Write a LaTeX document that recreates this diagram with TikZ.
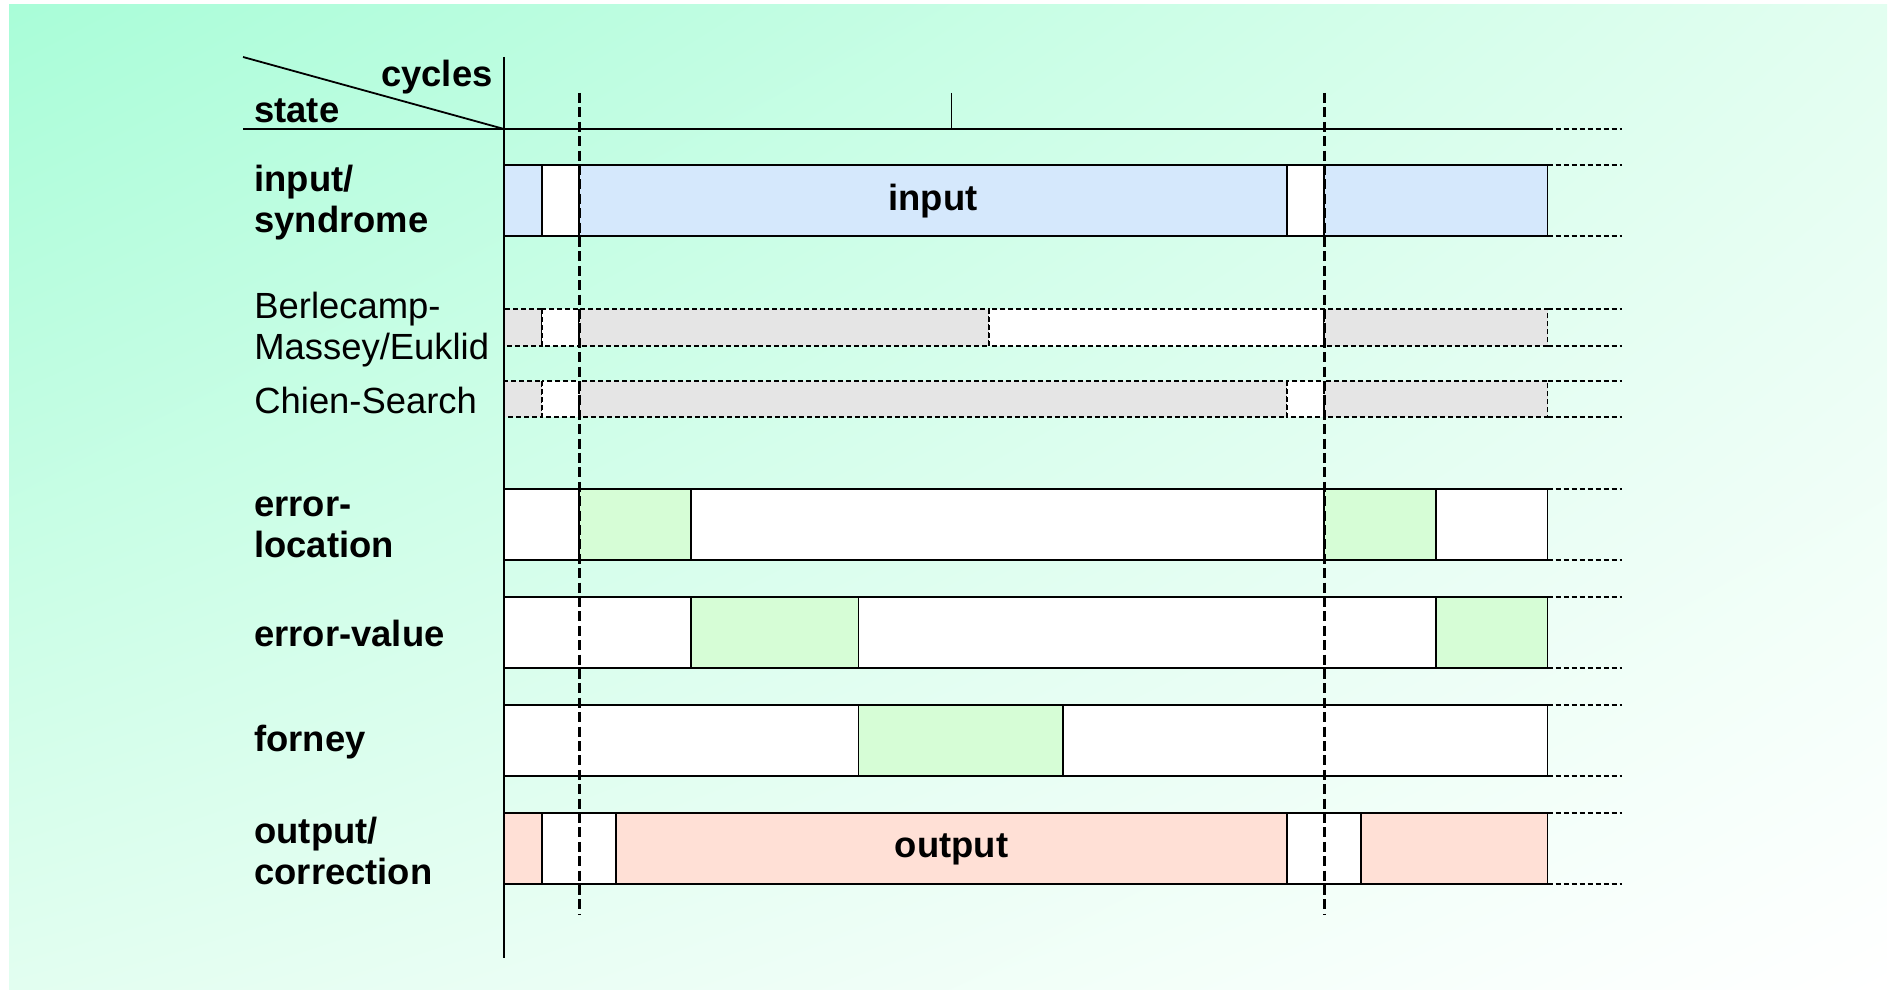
\documentclass[tikz,border=0pt]{standalone}
\usepackage{fontspec}
\setmainfont{Liberation Sans}
\usetikzlibrary{shadings}

\definecolor{bgmint}{HTML}{A9FDD8}
\definecolor{bgpale}{HTML}{E2FEF0}
\definecolor{inblue}{HTML}{D5E8FC}
\definecolor{stgray}{HTML}{E5E5E5}
\definecolor{errgreen}{HTML}{D6FDD6}
\definecolor{outpink}{HTML}{FFE0D6}

\tikzset{slot/.style = {draw=black, line width=0.9pt, fill=white}}
\tikzset{inslot/.style = {slot, fill=inblue}}
\tikzset{errslot/.style = {slot, fill=errgreen}}
\tikzset{outslot/.style = {slot, fill=outpink}}
\tikzset{dslot/.style = {slot, dash pattern=on 2.5pt off 1.5pt}}
\tikzset{gslot/.style = {dslot, fill=stgray}}
\tikzset{more/.style = {line width=0.9pt, dash pattern=on 2.5pt off 1.5pt}}
\tikzset{cut/.style = {line width=1.5pt, dash pattern=on 5pt off 2.2pt}}
\tikzset{lbl/.style = {anchor=west, align=left, inner sep=0pt, font=\bfseries\fontsize{18.2}{20.5}\selectfont}}
\tikzset{nlbl/.style = {lbl, font=\fontsize{18.2}{20.5}\selectfont}}

\begin{document}
\begin{tikzpicture}[x=0.5pt, y=-0.5pt]
\useasboundingbox (0,0) rectangle (1896,994);
\shade[upper left=bgmint, upper right=bgpale, lower left=bgpale, lower right=white] (9,5) rectangle (1887,989);

% header
\draw[line width=0.9pt] (243,57) -- (504,129);
\draw[line width=0.9pt] (243,129) -- (1547.5,129);
\draw[line width=0.9pt] (951.5,93) -- (951.5,129);
\node[lbl, anchor=base east] (cycles) at (493,87) {cycles};
\node[lbl, anchor=base west] (state) at (254,122.5) {state};

% input/syndrome
\draw[inslot] (504,165) rectangle (541.75,236);
\draw[slot] (541.75,165) rectangle (579,236);
\draw[inslot] (579,165) rectangle (1286.75,236);
\draw[slot] (1286.75,165) rectangle (1324,236);
\draw[inslot] (1324,165) rectangle (1547.5,236);
\node[lbl, anchor=center] (input) at (932.9,201.5) {input};

% Berlecamp-Massey/Euklid
\draw[gslot] (504,309) rectangle (541.75,346);
\draw[dslot] (541.75,309) rectangle (579,346);
\draw[gslot] (579,309) rectangle (988.75,346);
\draw[dslot] (988.75,309) rectangle (1324,346);
\draw[gslot] (1324,309) rectangle (1547.5,346);

% Chien-Search
\draw[gslot] (504,381) rectangle (541.75,417);
\draw[dslot] (541.75,381) rectangle (579,417);
\draw[gslot] (579,381) rectangle (1286.75,417);
\draw[dslot] (1286.75,381) rectangle (1324,417);
\draw[gslot] (1324,381) rectangle (1547.5,417);

% error-location
\draw[slot] (504,489) rectangle (579,560);
\draw[errslot] (579,489) rectangle (690.75,560);
\draw[slot] (690.75,489) rectangle (1324,560);
\draw[errslot] (1324,489) rectangle (1435.75,560);
\draw[slot] (1435.75,489) rectangle (1547.5,560);

% error-value
\draw[slot] (504,597) rectangle (690.75,668);
\draw[errslot] (690.75,597) rectangle (858.4,668);
\draw[slot] (858.4,597) rectangle (1435.75,668);
\draw[errslot] (1435.75,597) rectangle (1547.5,668);

% forney
\draw[slot] (504,705) rectangle (858.4,776);
\draw[errslot] (858.4,705) rectangle (1063.25,776);
\draw[slot] (1063.25,705) rectangle (1547.5,776);

% output/correction
\draw[outslot] (504,813) rectangle (541.75,884);
\draw[slot] (541.75,813) rectangle (616.25,884);
\draw[outslot] (616.25,813) rectangle (1286.75,884);
\draw[slot] (1286.75,813) rectangle (1361.25,884);
\draw[outslot] (1361.25,813) rectangle (1547.5,884);
\node[lbl, anchor=center] (output) at (951.5,849.5) {output};

% continuation
\draw[more] (1547.5,129) -- (1622,129) (1547.5,165) -- (1622,165) (1547.5,236) -- (1622,236)
  (1547.5,309) -- (1622,309) (1547.5,346) -- (1622,346) (1547.5,381) -- (1622,381) (1547.5,417) -- (1622,417)
  (1547.5,489) -- (1622,489) (1547.5,560) -- (1622,560) (1547.5,597) -- (1622,597) (1547.5,668) -- (1622,668)
  (1547.5,705) -- (1622,705) (1547.5,776) -- (1622,776) (1547.5,813) -- (1622,813) (1547.5,884) -- (1622,884);

% period marks and axis
\draw[cut] (579,93) -- (579,915);
\draw[cut] (1324,93) -- (1324,915);
\draw[line width=0.9pt] (504,57) -- (504,958);

% state labels
\node[lbl] (insyn) at (254,203) {input/\\syndrome};
\node[nlbl] (bm) at (254,330) {Berlecamp-\\Massey/Euklid};
\node[nlbl] (chien) at (254,400.5) {Chien-Search};
\node[lbl] (errloc) at (254,527) {error-\\location};
\node[lbl] (errval) at (254,633) {error-value};
\node[lbl] (forney) at (254,742.5) {forney};
\node[lbl] (outcor) at (254,851) {output/\\correction};
\end{tikzpicture}
\end{document}
